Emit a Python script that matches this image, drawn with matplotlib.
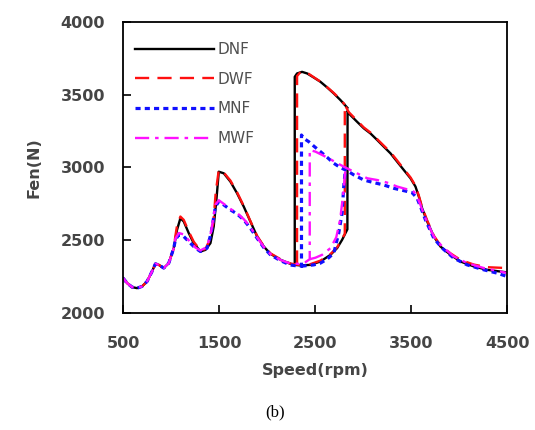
import numpy as np
import matplotlib
matplotlib.use("Agg")
import matplotlib.pyplot as plt

# ---------------- data ----------------
# shared low-speed segment (all four series)
common_x = [500, 542, 594, 646, 698, 750, 802, 837, 872, 924, 976, 1028]
common_y = [2240, 2206, 2178, 2171, 2183, 2217, 2286, 2338, 2331, 2309, 2343, 2446]

# DNF main path (sweep, jump up at ~2833 rpm)
dnf_x = [1062, 1097, 1132, 1184, 1236, 1306, 1358, 1410, 1444, 1472, 1497, 1549, 1618, 1687,
         1757, 1826, 1896, 1965, 2035, 2139, 2243, 2288, 2347, 2451, 2555, 2660, 2729, 2781,
         2816, 2836, 2838, 2851, 2937, 3007, 3076, 3146, 3215, 3285, 3354, 3423, 3493, 3545,
         3580, 3614, 3667, 3736, 3805, 3910, 4014, 4153, 4291, 4500]
dnf_y = [2571, 2651, 2629, 2549, 2480, 2423, 2434, 2480, 2594, 2777, 2971, 2960, 2903, 2823,
         2731, 2629, 2526, 2457, 2407, 2366, 2338, 2331, 2327, 2331, 2354, 2400, 2446, 2503,
         2549, 2575, 3390, 3371, 3314, 3269, 3234, 3189, 3143, 3097, 3040, 2983, 2926, 2869,
         2800, 2720, 2629, 2526, 2457, 2400, 2354, 2320, 2297, 2279]
# DNF upper branch (jump down at ~2288 rpm)
dnf_up_x = [2288, 2288, 2312, 2364, 2417, 2486, 2555, 2625, 2694, 2764, 2836]
dnf_up_y = [2331, 3623, 3646, 3657, 3646, 3618, 3589, 3550, 3509, 3463, 3410]

# DWF
dwf_x = [1045, 1062, 1097, 1132, 1184, 1236, 1306, 1358, 1400, 1440, 1465, 1497, 1549, 1618,
         1687, 1757, 1826, 1896, 1965, 2035, 2139, 2243, 2312, 2347, 2451, 2555, 2660, 2729,
         2781, 2809, 2809, 2851, 2937, 3007, 3076, 3146, 3215, 3285, 3354, 3423, 3493, 3545,
         3580, 3614, 3667, 3736, 3805, 3910, 4014, 4153, 4291, 4500]
dwf_y = [2530, 2600, 2663, 2640, 2560, 2490, 2430, 2440, 2500, 2620, 2830, 2983, 2965, 2910,
         2830, 2735, 2632, 2530, 2460, 2410, 2370, 2340, 2333, 2330, 2336, 2360, 2405, 2452,
         2510, 2545, 3430, 3380, 3322, 3275, 3240, 3195, 3150, 3105, 3048, 2990, 2932, 2875,
         2806, 2728, 2636, 2532, 2465, 2410, 2365, 2333, 2315, 2309]
dwf_up_x = [2312, 2312, 2340, 2380, 2430, 2486, 2555, 2625, 2694, 2764, 2809]
dwf_up_y = [2333, 3628, 3650, 3660, 3645, 3620, 3590, 3552, 3512, 3467, 3432]

# MNF
mnf_x = [1045, 1080, 1132, 1184, 1253, 1306, 1375, 1417, 1462, 1497, 1549, 1618, 1687, 1757,
         1826, 1896, 1965, 2035, 2139, 2243, 2300, 2358, 2358, 2382, 2434, 2486, 2555, 2625,
         2694, 2764, 2833, 2903, 3007, 3111, 3215, 3319, 3423, 3510, 3562, 3597, 3649, 3736,
         3823, 3944, 4083, 4257, 4396, 4500]
mnf_y = [2503, 2537, 2526, 2491, 2446, 2423, 2446, 2549, 2731, 2766, 2743, 2709, 2681, 2640,
         2583, 2514, 2450, 2400, 2360, 2330, 2325, 2322, 3223, 3200, 3177, 3147, 3109, 3070,
         3029, 2999, 2978, 2949, 2914, 2896, 2880, 2857, 2841, 2827, 2789, 2731, 2640, 2514,
         2446, 2377, 2331, 2297, 2274, 2251]
mnf_lo_x = [2358, 2400, 2486, 2555, 2625, 2694, 2746, 2781, 2798, 2816]
mnf_lo_y = [2322, 2325, 2331, 2343, 2370, 2411, 2549, 2686, 2869, 2990]

# MWF
mwf_x = [1045, 1080, 1132, 1184, 1253, 1306, 1375, 1417, 1462, 1497, 1549, 1618, 1687, 1757,
         1826, 1896, 1965, 2035, 2139, 2243, 2330, 2400, 2444, 2444, 2503, 2573, 2660, 2746,
         2833, 2937, 3042, 3146, 3250, 3354, 3458, 3528, 3562, 3597, 3649, 3736, 3823, 3944,
         4083, 4257, 4396, 4500]
mwf_y = [2510, 2550, 2540, 2500, 2450, 2430, 2455, 2560, 2745, 2775, 2750, 2715, 2688, 2645,
         2590, 2520, 2455, 2405, 2365, 2340, 2338, 2350, 2370, 3120, 3109, 3086, 3056, 3024,
         2994, 2960, 2926, 2914, 2896, 2869, 2850, 2834, 2800, 2743, 2651, 2526, 2457, 2389,
         2343, 2309, 2290, 2275]
mwf_lo_x = [2444, 2503, 2573, 2660, 2720, 2760, 2790, 2816]
mwf_lo_y = [2370, 2380, 2400, 2446, 2520, 2640, 2800, 2990]

labels = ["DNF", "DWF", "MNF", "MWF"]
x_ticks = [500, 1500, 2500, 3500, 4500]
y_ticks = [2000, 2500, 3000, 3500, 4000]


def path(main_x, main_y, extra_x, extra_y):
    xs = common_x + main_x + [np.nan] + extra_x
    ys = common_y + main_y + [np.nan] + extra_y
    return np.array(xs, float), np.array(ys, float)


series = [
    (path(dnf_x, dnf_y, dnf_up_x, dnf_up_y), dict(color="black", lw=1.7, ls="-")),
    (path(dwf_x, dwf_y, dwf_up_x, dwf_up_y), dict(color="#ff1010", lw=1.7, ls=(0, (6, 3.5)))),
    (path(mnf_x, mnf_y, mnf_lo_x, mnf_lo_y), dict(color="#1010ff", lw=2.3, ls=(0, (1.6, 1.3)))),
    (path(mwf_x, mwf_y, mwf_lo_x, mwf_lo_y), dict(color="#ff10ff", lw=1.7, ls=(0, (6, 2.5, 1.5, 2.5)))),
]

# ---------------- figure ----------------
fig = plt.figure(figsize=(5.35, 4.3), dpi=100)
ax = fig.add_axes([0.23, 0.272, 0.718, 0.677])

for (xs, ys), st in series:
    ax.plot(xs, ys, **st)

ax.set_xlim(500, 4500)
ax.set_ylim(2000, 4000)
ax.set_xticks(x_ticks)
ax.set_yticks(y_ticks)

tick_color = "#454545"
ax.tick_params(direction="in", length=6, width=1.2, colors="black",
               labelcolor=tick_color, labelsize=11.5)
ax.tick_params(axis="y", pad=13)
ax.tick_params(axis="x", pad=16.5)
for lab in ax.get_xticklabels() + ax.get_yticklabels():
    lab.set_fontweight("bold")
for sp in ax.spines.values():
    sp.set_linewidth(1.3)

ax.set_xlabel("Speed(rpm)", fontsize=11.5, fontweight="bold", color=tick_color, labelpad=9)
ax.set_ylabel("Fen(N)", fontsize=11.5, fontweight="bold", color=tick_color, labelpad=14)

leg = ax.legend(labels, loc="upper left", bbox_to_anchor=(0.031, 0.93), frameon=False,
                borderaxespad=0, borderpad=0, handlelength=5.2, handletextpad=0.2,
                labelspacing=0.95, fontsize=11)
for t in leg.get_texts():
    t.set_color("#505050")

fig.text(0.514, 0.04, "(b)", ha="center", va="center", fontsize=12,
         family="Liberation Serif")

fig.savefig("out.png", dpi=100)
